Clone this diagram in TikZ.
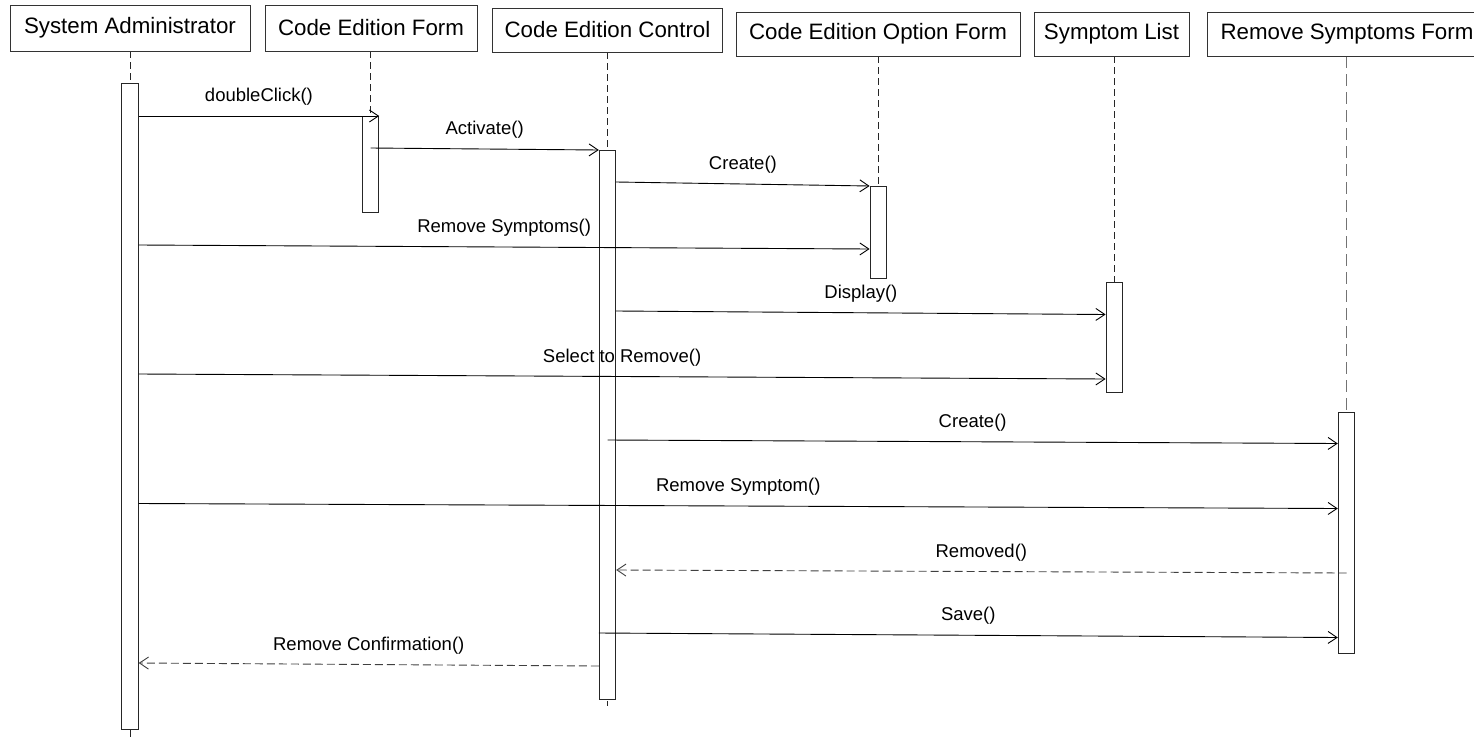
\documentclass[tikz,border=0pt]{standalone}
\usepackage{fontspec}
\setmainfont{Liberation Sans}
\usetikzlibrary{arrows.meta,backgrounds}

\tikzset{
  obj/.style={draw=black!80, line width=0.9pt, fill=white, inner sep=0pt,
    minimum height=44pt, font=\fontsize{22.3}{26}\selectfont},
  act/.style={draw=black!85, line width=0.9pt, fill=white, inner sep=0pt,
    minimum width=16.5pt, anchor=north},
  life/.style={draw=black!85, line width=0.9pt, dash pattern=on 7pt off 4pt},
  lifelight/.style={draw=black!55, line width=0.8pt, dash pattern=on 12pt off 6pt},
  msg/.style={draw=black, line width=0.9pt, -{Straight Barb[length=9pt,width=12pt,line width=0.9pt]}},
  ret/.style={msg, draw=black!75, dash pattern=on 8pt off 4pt},
  lbl/.style={midway, anchor=base, yshift=14.5pt, inner sep=0pt,
    font=\fontsize{18.5}{22}\selectfont, text=black}
}

\begin{document}
\begin{tikzpicture}[x=1pt, y=-1pt]
  \useasboundingbox (0,0) rectangle (1474,736);
  \clip (0,0) rectangle (1474,736);

  % object headers
  \node[obj, minimum width=240pt, minimum height=46pt] (admin) at (130,28) {System Administrator};
  \node[obj, minimum width=212pt, minimum height=46pt] (form)  at (371,28) {Code Edition Form};
  \node[obj, minimum width=230pt] (ctrl)  at (607.5,30) {Code Edition Control};
  \node[obj, minimum width=284pt] (opt)   at (878,34) {Code Edition Option Form};
  \node[obj, minimum width=155pt] (list)  at (1111.5,34) {Symptom List};
  \node[obj, minimum width=280pt] (rem)   at (1347,34) {Remove Symptoms Form};

  % activation bars
  \node[act, minimum height=646pt]   (a1) at (130,83) {};
  \node[act, minimum height=96pt]    (a2) at (370.5,116) {};
  \node[act, minimum height=549pt]   (a3) at (607.5,150) {};
  \node[act, minimum height=92pt]    (a4) at (878.3,186) {};
  \node[act, minimum height=110pt]   (a5) at (1114.3,282) {};
  \node[act, minimum height=241.5pt] (a6) at (1346.5,411.5) {};

  % lifelines, behind the bars
  \begin{pgfonlayer}{background}
    \draw[life] (a1.north |- admin.south) -- (a1.north);
    \draw[life] (a2.north |- form.south) -- (a2.north);
    \draw[life] (a3.north |- ctrl.south) -- (a3.north);
    \draw[life] (a4.north |- opt.south) -- (a4.north);
    \draw[life] (a5.north |- list.south) -- (a5.north);
    \draw[lifelight] (a6.north |- rem.south) -- (a6.north);
    \draw[life] (a1.south) -- ++(0,8);
    \draw[line width=0.9pt, draw=black!85] ([yshift=-1pt]a3.south) -- ++(0,5);
  \end{pgfonlayer}

  % messages
  \draw[msg] (a1.east |- 0,116) -- (a2.north east) node[lbl] {doubleClick()};
  \draw[msg] (a2.north |- 0,148) -- (a3.north west) node[lbl] {Activate()};
  \draw[msg] (a3.east |- 0,182) -- (a4.north west) node[lbl] {Create()};
  \draw[msg] (a1.east |- 0,245) -- (a4.west |- 0,249) node[lbl] {Remove Symptoms()};
  \draw[msg] (a3.east |- 0,311) -- (a5.west |- 0,314.5) node[lbl] {Display()};
  \draw[msg] (a1.east |- 0,374) -- (a5.west |- 0,379) node[lbl] {Select to Remove()};
  \draw[msg] (a3.north |- 0,440) -- (a6.west |- 0,443.5) node[lbl] {Create()};
  \draw[msg] (a1.east |- 0,503.5) -- (a6.west |- 0,508.5) node[lbl] {Remove Symptom()};
  \draw[ret] (a6.north |- 0,573) -- (a3.east |- 0,570) node[lbl] {Removed()};
  \draw[msg] (a3.west |- 0,633) -- (a6.west |- 0,637.5) node[lbl] {Save()};
  \draw[ret] (a3.west |- 0,666) -- (a1.east |- 0,663) node[lbl] {Remove Confirmation()};
\end{tikzpicture}
\end{document}
